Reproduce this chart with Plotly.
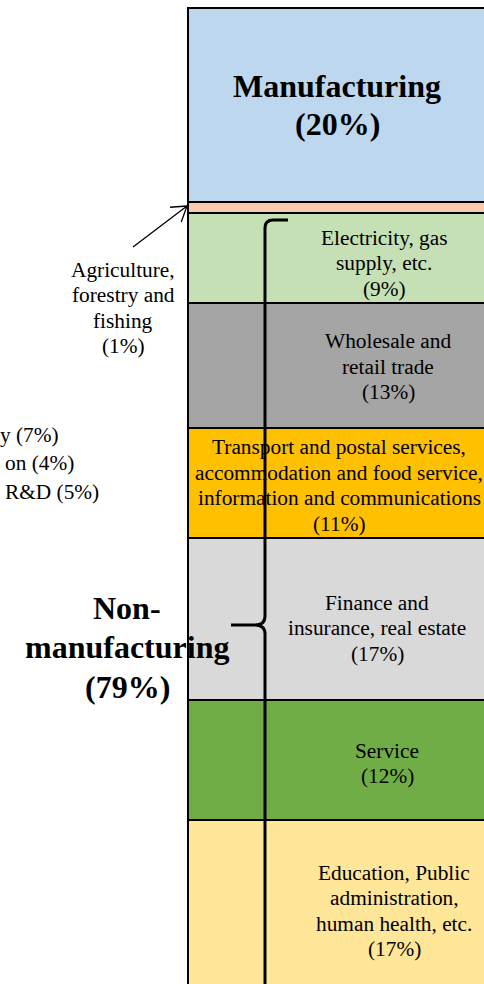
import math
import plotly.graph_objects as go

W, H = 484, 984

# ---------------- data ----------------
categories = [
    "Manufacturing",
    "Agriculture, forestry and fishing",
    "Electricity, gas supply, etc.",
    "Wholesale and retail trade",
    "Transport and postal services, accommodation and food service, information and communications",
    "Finance and insurance, real estate",
    "Service",
    "Education, Public administration, human health, etc.",
]
shares = [19.9, 1.1, 9.2, 12.8, 11.3, 16.6, 12.3, 17.0]
labels = [
    "Manufacturing<br>(20%)",
    "Agriculture,<br>forestry and<br>fishing<br>(1%)",
    "Electricity, gas<br>supply, etc.<br>(9%)",
    "Wholesale and<br>retail trade<br>(13%)",
    "Transport and postal services,<br>accommodation and food service,<br>information and communications<br>(11%)",
    "Finance and<br>insurance, real estate<br>(17%)",
    "Service<br>(12%)",
    "Education, Public<br>administration,<br>human health, etc.<br>(17%)",
]
group_label = "Non-<br>manufacturing<br>(79%)"
side_labels = ["y (7%)", "on (4%)", "R&D (5%)"]

# ---------------- styles ----------------
colors = ["#BDD7EE", "#F8CBAD", "#C5E0B4", "#A5A5A5", "#FFC000", "#D9D9D9", "#70AD47", "#FFE699"]
label_xc = [337, 123, 384, 388, 339, 377, 387, 394]   # pixel centres of labels
label_dy = [0, 0, 5.5, 1.5, 2.5, 9.5, 3.5, 8]          # pixel offset from segment middle
FONT = "Liberation Serif, Times New Roman, serif"
REG = 21.33
BOLD = 32

top_px = 8
yr = [100, -top_px / (H - top_px) * 100]
bar_left_px, bar_unit_px = 188, 299
x0 = -0.5 - bar_left_px / bar_unit_px
x1 = x0 + W / bar_unit_px


def px(x):
    return x / W


def py(y):
    return 1 - y / H


fig = go.Figure()
for cat, val, col in zip(categories, shares, colors):
    fig.add_trace(go.Bar(
        x=[0], y=[val], name=cat, width=1,
        marker=dict(color=col, line=dict(color="black", width=2)),
        hoverinfo="skip",
    ))

annotations = []
cum = 0
for i, (val, lab) in enumerate(zip(shares, labels)):
    mid = cum + val / 2
    cum += val
    lines = lab.split("<br>")
    n = len(lines)
    bold = (i == 0)
    fs = BOLD if bold else REG
    L = 38 if bold else 25.6
    if i == 1:
        # agriculture label sits outside the bar
        for k, line in enumerate(lines):
            yc = 308 + (k - (n - 1) / 2) * L
            annotations.append(dict(
                x=px(label_xc[i]), y=py(yc), xref="paper", yref="paper",
                text=line, showarrow=False, xanchor="center", yanchor="middle",
                font=dict(family=FONT, size=fs, color="black")))
        continue
    for k, line in enumerate(lines):
        off = label_dy[i] + (k - (n - 1) / 2) * L
        annotations.append(dict(
            x=px(label_xc[i]), y=mid, xref="paper", yref="y",
            text=line, showarrow=False, xanchor="center", yanchor="middle",
            yshift=-off,
            font=dict(family=FONT, size=fs, color="black",
                      weight="bold" if bold else "normal")))

# Non-manufacturing group label
g_lines = group_label.split("<br>")
for k, line in enumerate(g_lines):
    yc = 647 + (k - 1) * 39.5
    annotations.append(dict(
        x=px(127), y=py(yc), xref="paper", yref="paper",
        text=line, showarrow=False, xanchor="center", yanchor="middle",
        font=dict(family=FONT, size=BOLD, color="black", weight="bold")))

# side labels at far left (only their visible tails)
side_end = [61, 76, 101]
side_y = [435, 463, 492]
for t, xe, yc in zip(side_labels, side_end, side_y):
    annotations.append(dict(
        x=px(xe), y=py(yc), xref="paper", yref="paper",
        text=t, showarrow=False, xanchor="right", yanchor="middle",
        font=dict(family=FONT, size=REG, color="black")))

shapes = []
# brace
brace = (f"M {px(288)},{py(220)} L {px(273)},{py(220)} "
         f"Q {px(265)},{py(220)} {px(265)},{py(228)} "
         f"L {px(265)},{py(616)} Q {px(265)},{py(625)} {px(255)},{py(625)} "
         f"L {px(231)},{py(625)} "
         f"M {px(255)},{py(625)} Q {px(265)},{py(625)} {px(265)},{py(634)} "
         f"L {px(265)},{py(1000)}")
shapes.append(dict(type="path", xref="paper", yref="paper", path=brace,
                   line=dict(color="black", width=3), layer="above"))

# arrow to agriculture slice
tail = (133, 247)
tip = (187, 206)
dx, dy = tail[0] - tip[0], tail[1] - tip[1]
d = math.hypot(dx, dy)
ux, uy = dx / d, dy / d
arrow = f"M {px(tail[0])},{py(tail[1])} L {px(tip[0])},{py(tip[1])}"
for ang in (33, -33):
    a = math.radians(ang)
    rx = ux * math.cos(a) - uy * math.sin(a)
    ry = ux * math.sin(a) + uy * math.cos(a)
    arrow += f" M {px(tip[0])},{py(tip[1])} L {px(tip[0] + 17 * rx)},{py(tip[1] + 17 * ry)}"
shapes.append(dict(type="path", xref="paper", yref="paper", path=arrow,
                   line=dict(color="black", width=1.3), layer="above"))

fig.update_layout(
    width=W, height=H,
    margin=dict(l=0, r=0, t=0, b=0),
    barmode="stack",
    showlegend=False,
    paper_bgcolor="white", plot_bgcolor="white",
    xaxis=dict(visible=False, range=[x0, x1], fixedrange=True),
    yaxis=dict(visible=False, range=yr, fixedrange=True),
    annotations=annotations,
    shapes=shapes,
)

fig.write_html(
    "out.html",
    config={"displayModeBar": False},
    post_script="document.body.style.margin='0';document.body.style.overflow='hidden';",
)
